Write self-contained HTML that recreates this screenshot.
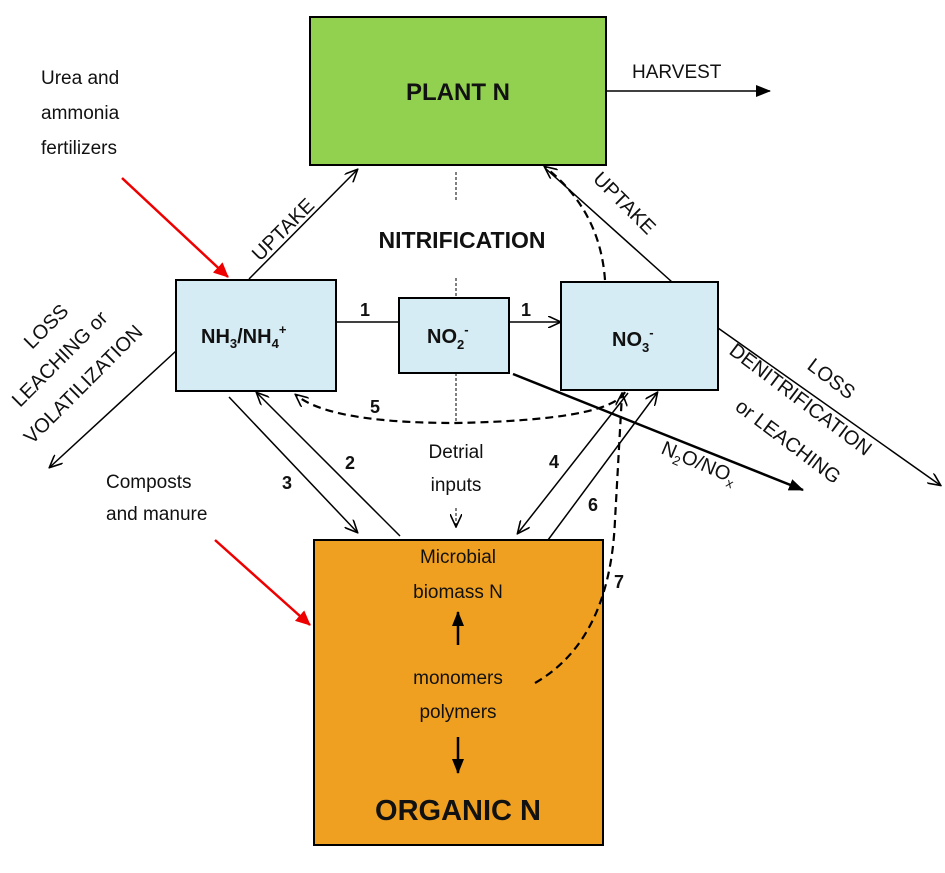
<!DOCTYPE html>
<html><head><meta charset="utf-8"><style>
body{margin:0;background:#fff}
svg{display:block;font-family:"Liberation Sans","DejaVu Sans",sans-serif}
</style></head><body>
<svg width="945" height="873" viewBox="0 0 945 873" xmlns="http://www.w3.org/2000/svg">
<defs>
<marker id="a" markerWidth="14" markerHeight="12" refX="12" refY="6" orient="auto" markerUnits="userSpaceOnUse"><path d="M0,0 L13,6 L0,12" fill="none" stroke="#000" stroke-width="1.6"/></marker>
<marker id="f" markerWidth="16" markerHeight="12" refX="14" refY="6" orient="auto" markerUnits="userSpaceOnUse"><path d="M0,0 L15,6 L0,12 Z" fill="#000"/></marker>
<marker id="r" markerWidth="16" markerHeight="14" refX="14" refY="7" orient="auto" markerUnits="userSpaceOnUse"><path d="M0,0 L15,7 L0,14 Z" fill="#e00"/></marker>
</defs>
<rect x="310" y="17" width="296" height="148" fill="#92d050" stroke="#000" stroke-width="2"/>
<rect x="176" y="280" width="160" height="111" fill="#d6ecf4" stroke="#000" stroke-width="2"/>
<rect x="399" y="298" width="110" height="75" fill="#d6ecf4" stroke="#000" stroke-width="2"/>
<rect x="561" y="282" width="157" height="108" fill="#d6ecf4" stroke="#000" stroke-width="2"/>
<rect x="314" y="540" width="289" height="305" fill="#f0a020" stroke="#000" stroke-width="2"/>
<g stroke="#000" stroke-width="1" stroke-dasharray="3,2">
<line x1="456" y1="172" x2="456" y2="200"/><line x1="456" y1="278" x2="456" y2="298"/><line x1="456" y1="373" x2="456" y2="423"/>
<line x1="456" y1="508" x2="456" y2="526" marker-end="url(#a)"/>
</g>
<g fill="none" stroke="#000" stroke-width="1.5">
<line x1="606" y1="91" x2="770" y2="91" marker-end="url(#f)"/>
<line x1="249" y1="279" x2="357" y2="170" marker-end="url(#a)"/>
<line x1="176" y1="351" x2="50" y2="467" marker-end="url(#a)"/>
<line x1="336" y1="322" x2="399" y2="322"/>
<line x1="509" y1="322" x2="560" y2="322" marker-end="url(#a)"/>
<line x1="229" y1="397" x2="357" y2="532" marker-end="url(#a)"/>
<line x1="400" y1="536" x2="257" y2="393" marker-end="url(#a)"/>
<line x1="628" y1="393" x2="518" y2="533" marker-end="url(#a)"/>
<line x1="548" y1="540" x2="657" y2="393" marker-end="url(#a)"/>
<line x1="672" y1="282" x2="545" y2="168"/>
<line x1="718" y1="328" x2="940" y2="485" marker-end="url(#a)"/>
<line x1="513" y1="374" x2="803" y2="490" stroke-width="2.5" marker-end="url(#f)"/>
</g>
<g fill="none" stroke="#000" stroke-width="2.2" stroke-dasharray="8,5">
<path d="M605,280 Q600,210 545,167" marker-end="url(#a)"/>
<path d="M625,392 Q610,420 456,423 Q330,423 296,395" marker-end="url(#a)"/>
<path d="M535,683 Q610,640 615,520 L622,394" marker-end="url(#a)"/>
</g>
<line x1="122" y1="178" x2="228" y2="277" stroke="#e00" stroke-width="2.5" marker-end="url(#r)"/>
<line x1="215" y1="540" x2="310" y2="625" stroke="#e00" stroke-width="2.5" marker-end="url(#r)"/>
<line x1="458" y1="645" x2="458" y2="612" stroke="#000" stroke-width="2.5" marker-end="url(#f)"/>
<line x1="458" y1="737" x2="458" y2="773" stroke="#000" stroke-width="2.5" marker-end="url(#f)"/>
<g font-size="19" fill="#111">
<text x="41" y="84">Urea and</text><text x="41" y="119">ammonia</text><text x="41" y="154">fertilizers</text>
<text x="632" y="78">HARVEST</text>
<text x="106" y="488">Composts</text><text x="106" y="520">and manure</text>
<text x="456" y="458" text-anchor="middle">Detrial</text><text x="456" y="491" text-anchor="middle">inputs</text>
<text x="458" y="563" text-anchor="middle">Microbial</text><text x="458" y="598" text-anchor="middle">biomass N</text>
<text x="458" y="684" text-anchor="middle">monomers</text><text x="458" y="718" text-anchor="middle">polymers</text>
</g>
<g font-size="20" fill="#111">
<text transform="translate(260,262) rotate(-45)">UPTAKE</text>
<text transform="translate(592,180) rotate(45)">UPTAKE</text>
<text transform="translate(32,350) rotate(-45)">LOSS</text>
<text transform="translate(20,408) rotate(-45)">LEACHING or</text>
<text transform="translate(32,445) rotate(-45)">VOLATILIZATION</text>
<text transform="translate(806,368) rotate(37)">LOSS</text>
<text transform="translate(728,353) rotate(37)">DENITRIFICATION</text>
<text transform="translate(734,409) rotate(37)">or LEACHING</text>
<text transform="translate(660,453) rotate(23)">N<tspan font-size="13" dy="5">2</tspan><tspan dy="-5">O/NO</tspan><tspan font-size="13" dy="5">x</tspan></text>
</g>
<g font-weight="bold" fill="#111">
<text x="458" y="100" font-size="24" text-anchor="middle">PLANT N</text>
<text x="462" y="248" font-size="23" text-anchor="middle">NITRIFICATION</text>
<text x="458" y="820" font-size="29" text-anchor="middle">ORGANIC N</text>
<text x="201" y="343" font-size="20">NH<tspan font-size="13" dy="5">3</tspan><tspan dy="-5">/NH</tspan><tspan font-size="13" dy="5">4</tspan><tspan font-size="13" dy="-14">+</tspan></text>
<text x="427" y="343" font-size="20">NO<tspan font-size="13" dy="6">2</tspan><tspan font-size="13" dy="-15">-</tspan></text>
<text x="612" y="346" font-size="20">NO<tspan font-size="13" dy="6">3</tspan><tspan font-size="13" dy="-15">-</tspan></text>
<g font-size="18">
<text x="360" y="316">1</text><text x="521" y="316">1</text>
<text x="345" y="469">2</text><text x="282" y="489">3</text>
<text x="549" y="468">4</text><text x="370" y="413">5</text>
<text x="588" y="511">6</text><text x="614" y="588">7</text>
</g>
</g>
</svg>
</body></html>
